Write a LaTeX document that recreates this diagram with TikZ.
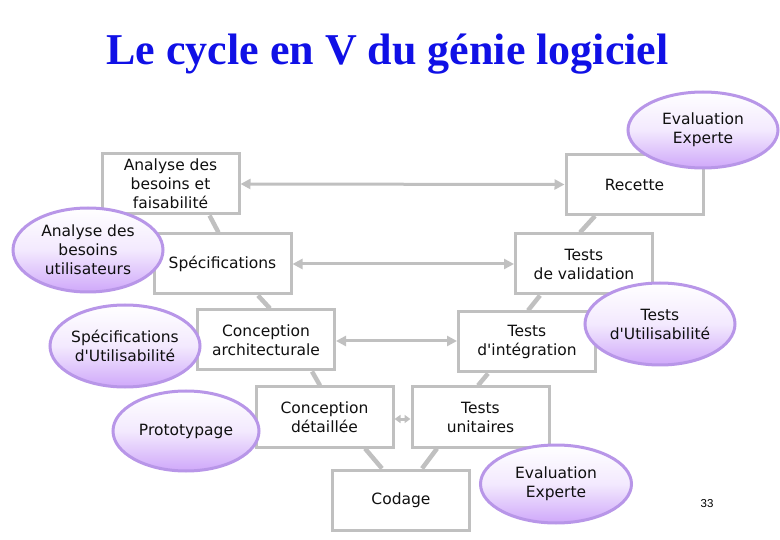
\documentclass[tikz,border=0pt]{standalone}
\usepackage{fontspec}
\setmainfont{DejaVu Sans}
\newfontfamily\titlefont{Liberation Serif}
\newfontfamily\numfont{Liberation Sans}
\usetikzlibrary{arrows.meta, shapes.geometric, backgrounds}
\definecolor{boxgray}{HTML}{C0C0C0}
\definecolor{titleblue}{HTML}{1010E6}
\definecolor{lavborder}{HTML}{B896E8}
\definecolor{lavfill}{HTML}{CFA8FA}
\definecolor{txtgray}{HTML}{101010}

\begin{document}
\begin{tikzpicture}[x=1pt, y=-1pt,
  vbox/.style={draw=boxgray, fill=white, line width=3pt, minimum width=137pt,
               minimum height=60pt, inner sep=0pt, align=center,
               font=\fontsize{15.5}{19}\selectfont, text=txtgray},
  userell/.style={ellipse, draw=lavborder, line width=3pt, top color=white,
                  bottom color=lavfill, middle color=lavfill!25, inner sep=-6pt,
                  align=center, font=\fontsize{15.5}{19}\selectfont, text=txtgray},
  vline/.style={boxgray, line width=4.5pt},
  harrow/.style={boxgray, line width=3pt, {Triangle[length=10pt, width=10pt]}-{Triangle[length=10pt, width=10pt]}}
]

% Frame
\useasboundingbox (0,0) rectangle (780,540);

% Title
\node[font=\titlefont\bfseries\fontsize{44}{48}\selectfont, text=titleblue, anchor=base]
  (title) at (387.5,65) {Le cycle en V du génie logiciel};

% Left branch
\node[vbox] (afb) at (170.5,184) {Analyse des\\besoins et\\faisabilité};
\node[vbox] (spec) at (222.5,264) {Spécifications};
\node[vbox] (carch) at (266,340) {Conception\\architecturale};
\node[vbox] (cdet) at (324.5,417) {Conception\\détaillée};

% Bottom
\node[vbox] (cod) at (401,500) {Codage};

% Right branch
\node[vbox] (tunit) at (480.5,417) {Tests\\unitaires};
\node[vbox] (tint) at (527,342) {Tests\\d\textquotesingle intégration};
\node[vbox] (tval) at (584,264) {Tests\\de validation};
\node[vbox] (rec) at (634.5,184.5) {Recette};

% V segments
\begin{pgfonlayer}{background}
\draw[vline] ([xshift=39pt]afb.south) -- ([xshift=-4pt]spec.north);
\draw[vline] ([xshift=35.5pt]spec.south) -- ([xshift=4pt]carch.north);
\draw[vline] ([xshift=46pt]carch.south) -- ([xshift=-4.5pt]cdet.north);
\draw[vline] ([xshift=40.5pt]cdet.south) -- ([xshift=-19pt]cod.north);
\draw[vline] ([xshift=21pt]cod.north) -- ([xshift=-43.5pt]tunit.south);
\draw[vline] ([xshift=-2.5pt]tunit.north) -- ([xshift=-39pt]tint.south);
\draw[vline] ([xshift=1pt]tint.north) -- ([xshift=-44pt]tval.south);
\draw[vline] ([xshift=-4pt]tval.north) -- ([xshift=-39.5pt]rec.south);
\end{pgfonlayer}

% Correspondences
\draw[harrow] (afb.east) -- (rec.west);
\draw[harrow] (spec.east) -- (tval.west);
\draw[harrow] ([yshift=-1pt]carch.east) -- ([yshift=-1pt]carch.east -| tint.west);
\draw[boxgray, line width=3pt, {Triangle[length=6pt, width=8pt]}-{Triangle[length=6pt, width=8pt]}]
  ([yshift=-2pt]cdet.east) -- ([yshift=-2pt]tunit.west);

% Usability activities
\node[userell, minimum width=150pt, minimum height=76pt] (evtop) at (703,130) {Evaluation\\Experte};
\node[userell, minimum width=150pt, minimum height=84pt] (abu) at (88,250) {Analyse des\\besoins\\utilisateurs};
\node[userell, minimum width=150pt, minimum height=82pt] (spu) at (125,346) {Spécifications\\d\textquotesingle Utilisabilité};
\node[userell, minimum width=146pt, minimum height=80pt] (proto) at (186,431) {Prototypage};
\node[userell, minimum width=150pt, minimum height=82pt] (tutil) at (660,324) {Tests\\d\textquotesingle Utilisabilité};
\node[userell, minimum width=151pt, minimum height=78pt] (evbot) at (556,484) {Evaluation\\Experte};

% Page number
\node[font=\numfont\fontsize{11.5}{13}\selectfont] (pnum) at (707,504) {33};

\end{tikzpicture}
\end{document}
